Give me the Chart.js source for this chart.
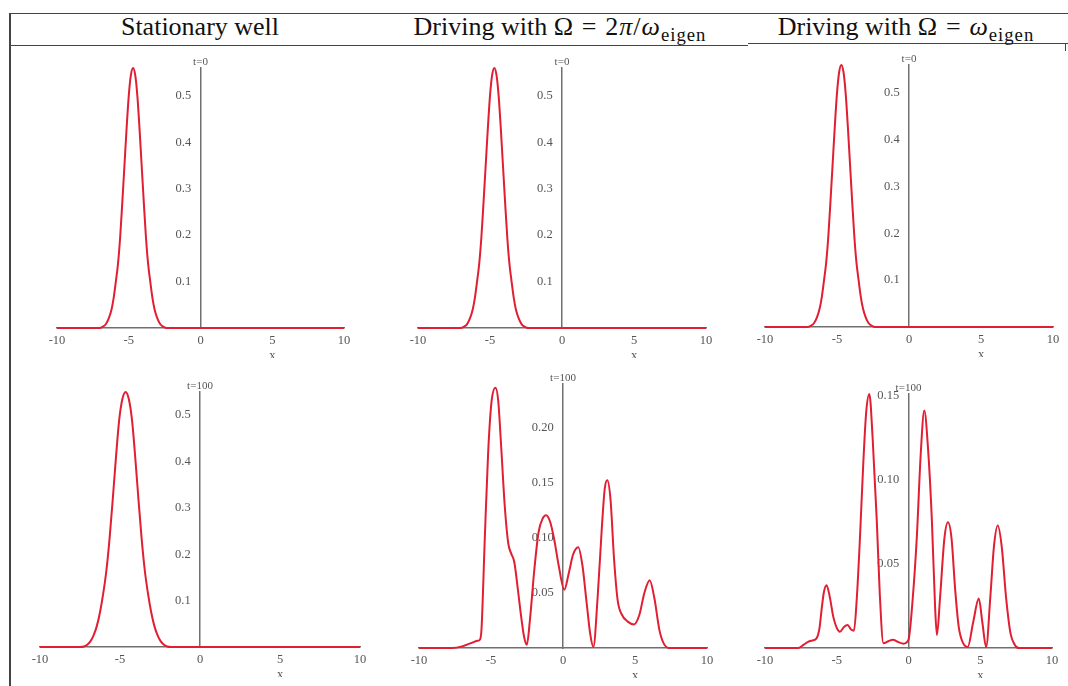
<!DOCTYPE html>
<html><head><meta charset="utf-8">
<script src="https://cdn.jsdelivr.net/npm/chart.js@4.4.1/dist/chart.umd.min.js"></script>
<style>
html,body{margin:0;padding:0;background:#fff;width:1068px;height:686px;overflow:hidden;position:relative;font-family:"Liberation Serif","Times New Roman",serif;}
.ln{position:absolute;background:#444;}
.hd{position:absolute;top:12px;font-size:26px;white-space:nowrap;transform:translateX(-50%);line-height:30px;color:#111;}
.hd sub{font-size:0.72em;vertical-align:-0.3em;line-height:0;}
.m{letter-spacing:1px;}
.eq{margin:0 0.3em;}
canvas{position:absolute;}
</style></head><body>
<div class="ln" style="left:9px;top:13px;width:1059px;height:1.3px"></div>
<div class="ln" style="left:9px;top:45px;width:739px;height:1.3px"></div>
<div class="ln" style="left:748px;top:43px;width:320px;height:1.3px"></div>
<div class="ln" style="left:9px;top:13px;width:1.5px;height:673px"></div>
<div class="ln" style="left:1065px;top:43px;width:1.3px;height:8px"></div>
<div class="hd" style="left:200px">Stationary well</div>
<div class="hd" style="left:560px">Driving with <span class="m">Ω<span class="eq">=</span>2<i>π</i>/<i>ω</i><sub>eigen</sub></span></div>
<div class="hd" style="left:906px">Driving with <span class="m">Ω<span class="eq">=</span><i>ω</i><sub>eigen</sub></span></div>
<canvas id="c1"></canvas><canvas id="c2"></canvas><canvas id="c3"></canvas>
<canvas id="c4"></canvas><canvas id="c5"></canvas><canvas id="c6"></canvas>
<script>
// ---- data ----
const xTicks = [-10, -5, 0, 5, 10];
const xAxisName = 'x';
const yTicksWide = [0.1, 0.2, 0.3, 0.4, 0.5];
const yTicksMid = [0.05, 0.10, 0.15, 0.20];
const yTicksNarrow = [0.05, 0.10, 0.15];
const timeLabels = ['t=0', 't=100'];

// t=0 initial packet (same in all three columns)
const t0X = [-10, -7.05, -6.8, -6.6, -6.4, -6.2, -6.05, -5.9, -5.75, -5.6, -5.45, -5.3, -5.15, -5.0, -4.85, -4.7, -4.55, -4.4, -4.25, -4.1, -3.95, -3.8, -3.65, -3.5, -3.35, -3.2, -3.0, -2.8, -2.6, -2.35, 10];
const t0Y = [0, 0, 0.003, 0.008, 0.02, 0.04, 0.065, 0.1, 0.138, 0.195, 0.27, 0.35, 0.43, 0.50, 0.545, 0.56, 0.545, 0.50, 0.43, 0.35, 0.27, 0.195, 0.138, 0.1, 0.065, 0.04, 0.02, 0.008, 0.003, 0, 0];

// t=100, stationary well
const statX = [-10, -7.5, -7.25, -7.05, -6.85, -6.65, -6.45, -6.25, -6.05, -5.85, -5.65, -5.45, -5.25, -5.05, -4.85, -4.65, -4.45, -4.25, -4.05, -3.85, -3.65, -3.45, -3.25, -3.05, -2.85, -2.65, -2.45, -2.25, -2.05, -1.8, 10];
const statY = [0, 0, 0.001, 0.005, 0.012, 0.025, 0.045, 0.075, 0.115, 0.165, 0.235, 0.32, 0.41, 0.49, 0.535, 0.55, 0.535, 0.49, 0.41, 0.32, 0.235, 0.165, 0.115, 0.075, 0.045, 0.025, 0.012, 0.005, 0.001, 0, 0];

// t=100, driving with Omega = 2pi/omega_eigen
const drive1X = [-10, -7.7, -7.0, -6.34, -5.95, -5.77, -5.66, -5.43, -5.2, -4.97, -4.69, -4.5, -4.28, -4.05, -3.8, -3.6, -3.38, -3.15, -2.9, -2.7, -2.51, -2.3, -2.0, -1.7, -1.4, -1.17, -0.9, -0.6, -0.3, 0.09, 0.4, 0.7, 1.06, 1.35, 1.65, 1.9, 2.11, 2.4, 2.7, 2.9, 3.08, 3.3, 3.55, 3.8, 4.1, 4.5, 4.92, 5.3, 5.65, 6.02, 6.35, 6.7, 7.0, 7.4, 10];
const drive1Y = [0, 0, 0.0015, 0.0047, 0.0065, 0.0075, 0.017, 0.1, 0.177, 0.223, 0.2365, 0.225, 0.18, 0.13, 0.095, 0.086, 0.078, 0.055, 0.028, 0.01, 0.003, 0.025, 0.07, 0.105, 0.118, 0.1207, 0.115, 0.098, 0.075, 0.053, 0.068, 0.085, 0.0917, 0.075, 0.04, 0.012, 0.001, 0.045, 0.11, 0.145, 0.1526, 0.135, 0.08, 0.043, 0.03, 0.024, 0.0214, 0.03, 0.05, 0.0617, 0.045, 0.016, 0.004, 0, 0];

// t=100, driving with Omega = omega_eigen
const drive2X = [-10, -7.7, -7.3, -7.0, -6.7, -6.41, -6.2, -6.06, -5.9, -5.71, -5.5, -5.24, -5.0, -4.78, -4.5, -4.24, -4.0, -3.8, -3.6, -3.38, -3.15, -2.95, -2.73, -2.5, -2.21, -2.0, -1.75, -1.4, -1.09, -0.7, -0.35, 0.0, 0.3, 0.58, 0.85, 1.1, 1.35, 1.63, 1.85, 1.98, 2.2, 2.5, 2.75, 3.0, 3.25, 3.5, 3.8, 4.13, 4.5, 4.9, 5.15, 5.41, 5.7, 5.95, 6.22, 6.5, 6.8, 7.11, 7.4, 7.7, 10];
const drive2Y = [0, 0, 0.002, 0.0037, 0.0045, 0.0057, 0.012, 0.0225, 0.033, 0.0373, 0.031, 0.0185, 0.012, 0.0097, 0.0125, 0.0136, 0.011, 0.0103, 0.03, 0.066, 0.11, 0.14, 0.151, 0.125, 0.0757, 0.032, 0.0028, 0.004, 0.0049, 0.0035, 0.0026, 0.005, 0.03, 0.066, 0.115, 0.1412, 0.12, 0.0757, 0.025, 0.0077, 0.03, 0.065, 0.0747, 0.065, 0.035, 0.0126, 0.003, 0.0006, 0.015, 0.0294, 0.015, 0.0005, 0.03, 0.06, 0.0728, 0.06, 0.03, 0.0087, 0.002, 0, 0];

// ---- panels: data references + layout boxes (left, top, right, bottom of plot area) ----
const panels = [
  {id:'c1', xs:t0X, ys:t0Y, label:timeLabels[0], yTicks:yTicksWide, dec:1, ymax:0.56},
  {id:'c2', xs:t0X, ys:t0Y, label:timeLabels[0], yTicks:yTicksWide, dec:1, ymax:0.56},
  {id:'c3', xs:t0X, ys:t0Y, label:timeLabels[0], yTicks:yTicksWide, dec:1, ymax:0.56},
  {id:'c4', xs:statX, ys:statY, label:timeLabels[1], yTicks:yTicksWide, dec:1, ymax:0.55},
  {id:'c5', xs:drive1X, ys:drive1Y, label:timeLabels[1], yTicks:yTicksMid, dec:2, ymax:0.24},
  {id:'c6', xs:drive2X, ys:drive2Y, label:timeLabels[1], yTicks:yTicksNarrow, dec:2, ymax:0.151}
];
const boxes = [
  [57, 68, 344, 328],
  [418, 68, 706, 328],
  [765, 65, 1053, 327],
  [40, 392, 360, 647],
  [419, 384, 707, 648],
  [765, 394, 1052, 648]
];

const PAD = {left:18, right:18, top:18, bottom:4};
const XAXIS_H = 30;
const AXIS_COLOR = '#707070';
const TICK_COLOR = '#555';
const LINE_COLOR = 'rgb(225,30,50)';
const tickFont = {family:'Liberation Serif', size:12.5};
const GAP = ' \u2002';   // spacing between y tick labels and the axis line

const topLabelPlugin = {
  id:'topLabel',
  afterDraw(chart, args, opts) {
    const ctx = chart.ctx;
    const x = chart.scales.x.getPixelForValue(0);
    ctx.save();
    ctx.font = '11px "Liberation Serif"';
    ctx.fillStyle = TICK_COLOR;
    ctx.textAlign = 'center';
    ctx.textBaseline = 'bottom';
    ctx.fillText(opts.text, x, chart.chartArea.top);
    ctx.restore();
  }
};

panels.forEach((p, i) => {
  const [L, T, R, B] = boxes[i];
  const cv = document.getElementById(p.id);
  const w = R - L + PAD.left + PAD.right;
  const h = B - T + PAD.top + XAXIS_H + PAD.bottom;
  cv.width = w; cv.height = h;
  cv.style.left = (L - PAD.left) + 'px';
  cv.style.top = (T - PAD.top) + 'px';
  cv.style.width = w + 'px'; cv.style.height = h + 'px';
  new Chart(cv, {
    type:'line',
    data:{datasets:[{
      data:p.xs.map((x, k) => ({x, y:p.ys[k]})),
      borderColor:LINE_COLOR, borderWidth:2, pointRadius:0,
      cubicInterpolationMode:'monotone', clip:false, fill:false
    }]},
    options:{
      responsive:false, animation:false, devicePixelRatio:1,
      layout:{padding:PAD},
      plugins:{legend:{display:false}, tooltip:{enabled:false}, topLabel:{text:p.label}},
      scales:{
        x:{
          type:'linear', position:'bottom', min:-10, max:10,
          grid:{display:false, drawTicks:false},
          border:{display:true, color:AXIS_COLOR, width:1.5},
          ticks:{font:tickFont, color:TICK_COLOR, padding:5, maxRotation:0,
            callback:(v) => v === 5 ? [String(v), xAxisName] : String(v)},
          afterBuildTicks:(s) => { s.ticks = xTicks.map(v => ({value:v})); },
          afterFit:(s) => { s.height = XAXIS_H; }
        },
        y:{
          type:'linear', position:{x:0}, min:0, max:p.ymax,
          grid:{display:false, drawTicks:false},
          border:{display:true, color:AXIS_COLOR, width:1.5},
          ticks:{font:tickFont, color:TICK_COLOR, padding:8,
            callback:(v) => v.toFixed(p.dec) + GAP},
          afterBuildTicks:(s) => { s.ticks = p.yTicks.map(v => ({value:v})); }
        }
      }
    },
    plugins:[topLabelPlugin]
  });
});
</script>
</body></html>
